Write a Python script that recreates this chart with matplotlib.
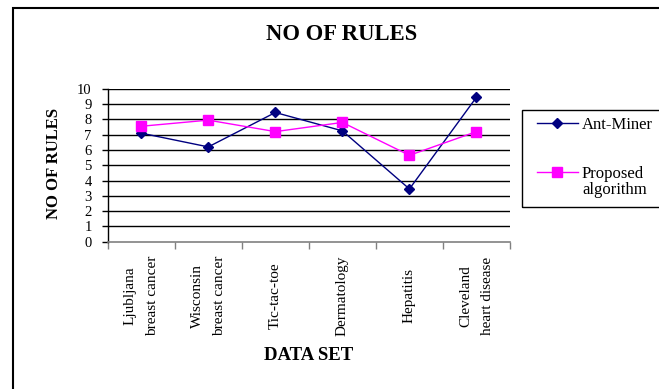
import numpy as np
import matplotlib
matplotlib.use('Agg')
from matplotlib import pyplot as plt
from matplotlib.patches import Rectangle

plt.rcParams['font.family'] = ['Liberation Serif', 'DejaVu Serif']

# data
categories = ['Ljubljana\nbreast cancer', 'Wisconsin\nbreast cancer', 'Tic-tac-toe',
              'Dermatology', 'Hepatitis', 'Cleveland\nheart disease']
ant_miner = [7.1, 6.2, 8.45, 7.25, 3.45, 9.45]
proposed = [7.55, 7.95, 7.2, 7.8, 5.65, 7.2]
y_ticks = np.arange(0, 11, 1)

W, H = 659, 389
fig = plt.figure(figsize=(W / 100, H / 100), dpi=100)
ax = fig.add_axes([107.7 / W, 1 - 241.7 / H, (510 - 107.7) / W, (241.7 - 88.8) / H])

x = np.arange(len(categories)) + 0.5
ax.plot(x, ant_miner, color='#000080', lw=1.0, marker='D', ms=5.5, label='Ant-Miner')
ax.plot(x, proposed, color='#FF00FF', lw=1.0, marker='s', ms=6.5, label='Proposed')

ax.set_xlim(0, len(categories))
ax.set_ylim(0, 10)
ax.set_yticks(y_ticks)
for v in y_ticks[1:]:
    ax.axhline(v, color='black', lw=1.0, zorder=0)

# ticks on category borders, labels in the middle
ax.set_xticks(np.arange(0, len(categories) + 1))
ax.set_xticklabels([])
ax.set_xticks(x, minor=True)
ax.set_xticklabels(categories, minor=True, rotation=90, fontsize=11,
                   linespacing=1.9, multialignment='center')
for lab in ax.get_xticklabels(minor=True):
    lab.set_va('center')
ax.tick_params(axis='x', which='minor', length=0, pad=39)
ax.tick_params(axis='x', which='major', length=5, width=1, color='#808080', direction='out')
ax.tick_params(axis='y', length=4.5, width=1, direction='out', labelsize=10.5, pad=7)

for s in ['top', 'right']:
    ax.spines[s].set_visible(False)
ax.spines['bottom'].set_color('#808080')
ax.spines['bottom'].set_linewidth(1.2)
ax.spines['left'].set_linewidth(1.0)

fig.text(342 / W, 1 - 35 / H, 'NO OF RULES', fontsize=16.3, fontweight='bold',
         ha='center', va='center')
fig.text(54 / W, 1 - 163 / H, 'NO OF RULES', fontsize=12, fontweight='bold',
         rotation=90, ha='center', va='center')
fig.text(309 / W, 1 - 355 / H, 'DATA SET', fontsize=13.5, fontweight='bold',
         ha='center', va='center')

# legend
leg = fig.legend(loc='upper left', bbox_to_anchor=(537 / W, 1 - 117 / H), frameon=False,
                 borderpad=0, borderaxespad=0, fontsize=12, handlelength=2.45,
                 labelspacing=1.95, handletextpad=0.25)
fig.canvas.draw()
bb = leg.get_texts()[1].get_window_extent()
fig.text(bb.x0, bb.y0 - 0.5, 'algorithm', fontsize=12, ha='left', va='top',
         transform=None)

# legend frame and outer chart border (cut off on the right and bottom)
fig.add_artist(Rectangle((522 / W, 1 - 207 / H), 150 / W, 97 / H, transform=fig.transFigure,
                         fill=False, edgecolor='black', lw=1.0, clip_on=False))
fig.add_artist(Rectangle((13 / W, -0.05), 1.0, 1 - 8 / H + 0.05, transform=fig.transFigure,
                         fill=False, edgecolor='black', lw=1.5, clip_on=False))

plt.savefig('out.png', dpi=100, facecolor='white')
